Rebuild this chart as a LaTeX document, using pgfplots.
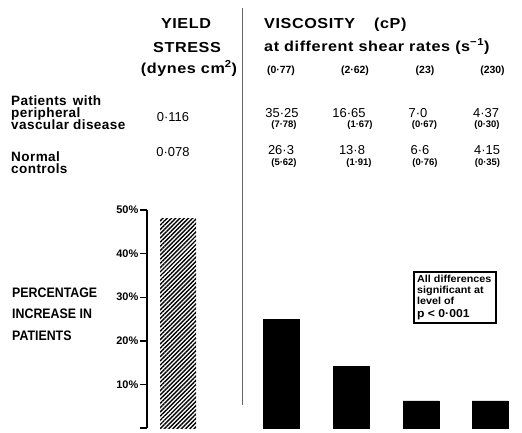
\documentclass[border=0pt]{standalone}
\usepackage{fontspec}
\setmainfont{Liberation Sans}
\newfontfamily\cond[FakeStretch=0.9]{Liberation Sans Bold}
\newfontfamily\hdr[FakeStretch=1.12, LetterSpace=4]{Liberation Sans Bold}
\newfontfamily\rowf[LetterSpace=3]{Liberation Sans Bold}
\newfontfamily\boxf[FakeStretch=1.06]{Liberation Sans Bold}
\usepackage{pgfplots}
\pgfplotsset{compat=1.18}
\usetikzlibrary{patterns.meta}
\newcommand{\fs}[1]{\fontsize{#1}{#1}\selectfont}
\begin{document}
\begin{tikzpicture}[x=1bp,y=1bp]
\path[use as bounding box] (0,0) rectangle (522,432);
\begin{axis}[at={(147bp,4bp)}, anchor=south west, scale only axis,
  width=375bp, height=218bp, xmin=0, xmax=375, ymin=0, ymax=50,
  axis x line=none, axis y line*=left,
  axis line style={-, line width=1.8bp},
  ytick={0,10,20,30,40,50},
  yticklabels={,10\%,20\%,30\%,40\%,50\%},
  tick align=outside, major tick length=7bp,
  tick style={line width=1.4bp, black},
  yticklabel style={font=\bfseries\fs{11}, inner sep=1.5bp},
  clip=false]
\addplot[ybar, bar shift=0pt, bar width=36bp, draw=none,
  pattern={Lines[angle=45,distance=3bp,line width=1.4bp]}]
  coordinates {(31,48)};
\addplot[ybar, bar shift=0pt, bar width=36bp, fill=black, draw=black]
  coordinates {(134,25) (204.5,14.2) (274,6.2) (343,6.2)};
\end{axis}
% divider
\draw[black!60, line width=1bp] (242,424) -- (242,27);
% headers
\begin{scope}[every node/.style={inner sep=0pt, font=\hdr\fs{14.5}}]
\node[anchor=base] at (186,403) {YIELD};
\node[anchor=base] at (187,380) {STRESS};
\node[anchor=base] at (189,359) {(dynes cm\textsuperscript{2})};
\node[anchor=base west] at (264,403) {VISCOSITY};
\node[anchor=base west] at (374,403) {(cP)};
\node[anchor=base west] at (264,381) {at different shear rates (s\textsuperscript{−1})};
\end{scope}
\begin{scope}[every node/.style={inner sep=0pt, anchor=base west, font=\rowf\fs{13.6}}]
\node at (11,326.5) {Patients\hspace{2bp} with};
\node at (11,314.5) {peripheral};
\node at (11,302.5) {vascular disease};
\node at (11,271) {Normal};
\node at (11,258.5) {controls};
\end{scope}
\begin{scope}[every node/.style={inner sep=0pt, anchor=base, font=\bfseries\fs{10.5}}]
\node at (281,359) {(0·77)};
\node at (355,359) {(2·62)};
\node at (425,359) {(23)};
\node at (492.5,359) {(230)};
\end{scope}
\begin{scope}[every node/.style={inner sep=0pt, anchor=base, font=\fs{13}}]
\node at (173,311) {0·116};
\node at (173,276) {0·078};
\node at (282,315) {35·25};
\node at (349,315) {16·65};
\node at (418,315) {7·0};
\node at (486,315) {4·37};
\node at (281,278) {26·3};
\node at (352,278) {13·8};
\node at (420,278) {6·6};
\node at (487,278) {4·15};
\end{scope}
\begin{scope}[every node/.style={inner sep=0pt, anchor=base, font=\bfseries\fs{9.5}}]
\node at (284,304.5) {(7·78)};
\node at (360,304.5) {(1·67)};
\node at (424.5,304.5) {(0·67)};
\node at (487,304.5) {(0·30)};
\node at (284,266.5) {(5·62)};
\node at (359,266.5) {(1·91)};
\node at (425,266.5) {(0·76)};
\node at (487.5,266.5) {(0·35)};
\end{scope}
% left label
\begin{scope}[every node/.style={inner sep=0pt, anchor=base west, font=\cond\fs{13.8}}]
\node at (12,135) {PERCENTAGE};
\node at (12,114) {INCREASE IN};
\node at (12,92) {PATIENTS};
\end{scope}
% note box
\draw[line width=1.2bp] (414,160) rectangle (496,109);
\begin{scope}[every node/.style={inner sep=0pt, anchor=base west, font=\boxf\fs{10.2}}]
\node at (417,149.5) {All differences};
\node at (417,138.5) {significant at};
\node at (417,127.5) {level of};
\node[font=\boxf\fs{11.5}] at (417,114.5) {p < 0·001};
\end{scope}
\end{tikzpicture}
\end{document}
